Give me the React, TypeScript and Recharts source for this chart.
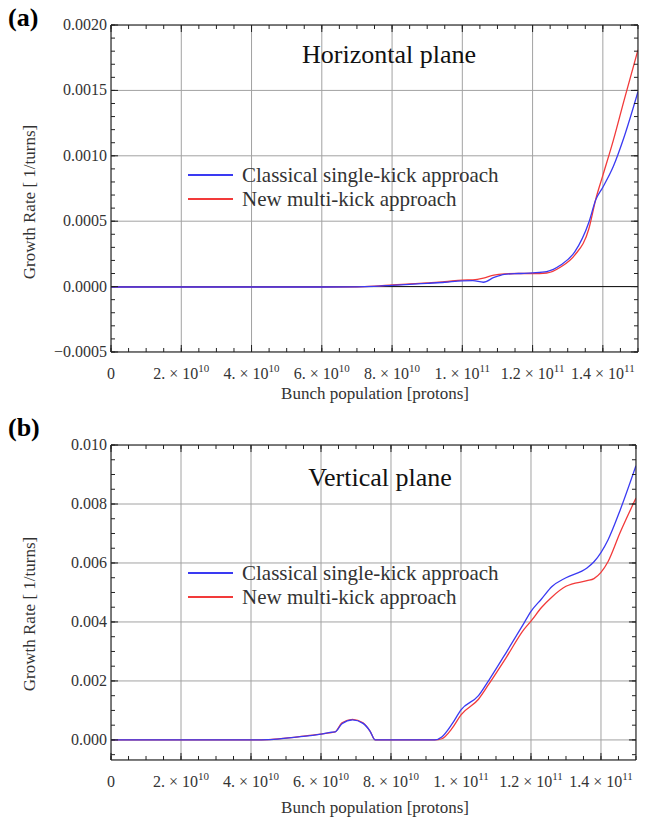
import React from 'react';
import { LineChart, Line, XAxis, YAxis, CartesianGrid, ReferenceLine } from 'recharts';

const FONT = '"Liberation Serif", "Times New Roman", serif';

// x axis: bunch population [protons]
const xMajor = [0, 2e10, 4e10, 6e10, 8e10, 1e11, 1.2e11, 1.4e11];
const xTickMantissa = ['0', '2.', '4.', '6.', '8.', '1.', '1.2', '1.4'];
const xTickExponent = ['', '10', '10', '10', '10', '11', '11', '11'];
const xMinor = Array.from({ length: 31 }, (_, i) => i * 5e9);

// (a) horizontal plane
const yMajorH = [-0.0005, 0, 0.0005, 0.001, 0.0015, 0.002];
const yLabelsH = ['\u22120.0005', '0.0000', '0.0005', '0.0010', '0.0015', '0.0020'];
const yMinorH = Array.from({ length: 26 }, (_, i) => -0.0005 + i * 0.0001);

const nH = [0, 1e10, 2e10, 3e10, 4e10, 5e10, 6e10, 7e10, 7.5e10, 8e10, 8.5e10, 9e10, 9.5e10, 1e11,
  1.03e11, 1.06e11, 1.09e11, 1.12e11, 1.16e11, 1.2e11, 1.24e11, 1.28e11, 1.32e11, 1.36e11, 1.38e11,
  1.4e11, 1.43e11, 1.46e11, 1.5e11];
const classicalH = [-0.000003, -0.000003, -0.000003, -0.000003, -0.000003, -0.000003, -0.000003, -0.000002,
  0.000002, 0.00001, 0.000017, 0.000025, 0.000033, 0.000044, 0.000045, 0.000033, 0.00007, 0.000094,
  0.0001, 0.000105, 0.000115, 0.000165, 0.000265, 0.00049, 0.000665, 0.00076, 0.00092, 0.00114, 0.00149];
const multiH = [-0.000003, -0.000003, -0.000003, -0.000003, -0.000003, -0.000003, -0.000003, -0.000002,
  0.000003, 0.000012, 0.00002, 0.000028, 0.000037, 0.00005, 0.000052, 0.000065, 0.000088, 0.000097,
  0.0001, 0.0001, 0.000104, 0.00015, 0.00024, 0.00044, 0.00067, 0.00085, 0.00112, 0.00142, 0.00181];

// (b) vertical plane
const yMajorV = [0, 0.002, 0.004, 0.006, 0.008, 0.01];
const yLabelsV = ['0.000', '0.002', '0.004', '0.006', '0.008', '0.010'];
const yMinorV = Array.from({ length: 22 }, (_, i) => -0.0005 + i * 0.0005);

const nV = [0, 1e10, 2e10, 3e10, 4e10, 4.5e10, 5e10, 5.5e10, 6e10, 6.3e10, 6.4e10, 6.6e10, 6.9e10, 7.2e10,
  7.4e10, 7.55e10, 8e10, 8.5e10, 9e10, 9.25e10, 9.45e10, 9.75e10, 1e11, 1.05e11, 1.08e11, 1.13e11,
  1.18e11, 1.2e11, 1.23e11, 1.26e11, 1.3e11, 1.36e11, 1.38e11, 1.42e11, 1.455e11, 1.5e11];
const classicalV = [0, 0, 0, 0, 0, 0.00001, 0.00006, 0.00012, 0.0002, 0.00026, 0.00027, 0.00055, 0.00068,
  0.00056, 0.0003, 0, 0, 0, 0, 0, 0.0001, 0.00055, 0.00102, 0.0015, 0.00203, 0.00298, 0.00396, 0.00436,
  0.00478, 0.0052, 0.0055, 0.00583, 0.00604, 0.00678, 0.0078, 0.0093];
const multiV = [0, 0, 0, 0, 0, 0.00001, 0.00006, 0.00013, 0.0002, 0.00025, 0.00027, 0.00058, 0.0007,
  0.00058, 0.0003, 0, 0, 0, 0, 0, 0.00004, 0.0004, 0.00085, 0.00138, 0.0019, 0.00281, 0.00375, 0.00403,
  0.00449, 0.00485, 0.00521, 0.0054, 0.00547, 0.00604, 0.00704, 0.0082];

const seriesNames = ['Classical single-kick approach', 'New multi-kick approach'];
const seriesColors = ['#3a3af2', '#f23a3a'];

const toRows = (n: number[], a: number[], b: number[]) =>
  n.map((v, i) => ({ n: v, classical: a[i], multi: b[i] }));

const Empty = () => <g />;

function XTick(props: any) {
  const { x, y, payload } = props;
  const i = xMajor.indexOf(payload.value);
  const m = xTickMantissa[i];
  const e = xTickExponent[i];
  return (
    <text x={x} y={y} textAnchor="middle" fontFamily={FONT} fontSize={16} fill="#333">
      {m}
      {e && <tspan> {'\u00d7'} 10</tspan>}
      {e && <tspan dy={-7} fontSize={11}>{e}</tspan>}
    </text>
  );
}

function YTick(props: any) {
  const { x, y, payload, ticks, labels } = props;
  const i = ticks.indexOf(payload.value);
  return (
    <text x={x} y={y} dy={5} textAnchor="end" fontFamily={FONT} fontSize={16} fill="#333">
      {labels[i]}
    </text>
  );
}

type PanelProps = {
  top: number;
  tag: string;
  title: string;
  titleX: number;
  titleY: number;
  legendY: number;
  yTitleY: number;
  xTitleY: number;
  rows: any[];
  yDomain: [number, number];
  yMajor: number[];
  yLabels: string[];
  yMinor: number[];
  margin: { top: number; right: number; bottom: number; left: number };
  zeroLine?: boolean;
};

// tick-only axes: a tiny size keeps them all sitting on the plot frame
const THIN = 0.01;

function Panel(p: PanelProps) {
  const xd: [number, number] = [0, 1.5e11];
  const axisStroke = '#222';
  const tl = { stroke: axisStroke };
  // each frame axis pair needs a series, otherwise recharts skips drawing it
  const frameLine = (xa: string, ya: string) => (
    <Line xAxisId={xa} yAxisId={ya} dataKey="classical" stroke="none" dot={false} activeDot={false}
      legendType="none" isAnimationActive={false} />
  );
  return (
    <div style={{ position: 'absolute', left: 0, top: p.top, width: 646, height: 410, fontFamily: FONT }}>
      <LineChart width={646} height={410} data={p.rows} margin={p.margin}>
        <CartesianGrid xAxisId="x" yAxisId="y" stroke="#a2a2a2" strokeWidth={1} />
        {p.zeroLine && <ReferenceLine xAxisId="x" yAxisId="y" y={0} stroke="#111" strokeWidth={1} />}
        <XAxis xAxisId="x" dataKey="n" type="number" domain={xd} allowDataOverflow ticks={xMajor} interval={0}
          height={THIN} tickSize={-7} tickMargin={34} tick={<XTick />} stroke={axisStroke} tickLine={tl} />
        <XAxis xAxisId="xm" dataKey="n" type="number" domain={xd} allowDataOverflow ticks={xMinor} interval={0}
          height={THIN} tickSize={-4} tick={<Empty />} axisLine={false} stroke={axisStroke} tickLine={tl} />
        <XAxis xAxisId="xt" dataKey="n" orientation="top" type="number" domain={xd} allowDataOverflow ticks={xMajor}
          interval={0} height={THIN} tickSize={-7} tick={<Empty />} stroke={axisStroke} tickLine={tl} />
        <XAxis xAxisId="xtm" dataKey="n" orientation="top" type="number" domain={xd} allowDataOverflow ticks={xMinor}
          interval={0} height={THIN} tickSize={-4} tick={<Empty />} axisLine={false} stroke={axisStroke} tickLine={tl} />
        <YAxis yAxisId="y" type="number" domain={p.yDomain} allowDataOverflow ticks={p.yMajor} interval={0}
          width={THIN} tickSize={-7} tickMargin={11} tick={<YTick ticks={p.yMajor} labels={p.yLabels} />}
          stroke={axisStroke} tickLine={tl} />
        <YAxis yAxisId="ym" type="number" domain={p.yDomain} allowDataOverflow ticks={p.yMinor} interval={0}
          width={THIN} tickSize={-4} tick={<Empty />} axisLine={false} stroke={axisStroke} tickLine={tl} />
        <YAxis yAxisId="yr" orientation="right" type="number" domain={p.yDomain} allowDataOverflow ticks={p.yMajor}
          interval={0} width={THIN} tickSize={-7} tick={<Empty />} stroke={axisStroke} tickLine={tl} />
        <YAxis yAxisId="yrm" orientation="right" type="number" domain={p.yDomain} allowDataOverflow ticks={p.yMinor}
          interval={0} width={THIN} tickSize={-4} tick={<Empty />} axisLine={false} stroke={axisStroke} tickLine={tl} />
        {frameLine('xm', 'ym')}
        {frameLine('xt', 'yr')}
        {frameLine('xtm', 'yrm')}
        <Line xAxisId="x" yAxisId="y" type="monotone" dataKey="multi" name={seriesNames[1]} stroke={seriesColors[1]}
          strokeWidth={1.3} dot={false} isAnimationActive={false} />
        <Line xAxisId="x" yAxisId="y" type="monotone" dataKey="classical" name={seriesNames[0]} stroke={seriesColors[0]}
          strokeWidth={1.3} dot={false} isAnimationActive={false} />
      </LineChart>

      <div style={{ position: 'absolute', left: 8, top: 4, fontSize: 26, fontWeight: 'bold', lineHeight: '28px' }}>{p.tag}</div>
      <div style={{ position: 'absolute', left: p.titleX, top: p.titleY - 14, transform: 'translateX(-50%)',
        fontSize: 26, lineHeight: '28px', whiteSpace: 'nowrap', color: '#111' }}>{p.title}</div>
      {seriesNames.map((name, i) => (
        <div key={name} style={{ position: 'absolute', left: 188, top: p.legendY - 12 + i * 24, height: 24,
          display: 'flex', alignItems: 'center', whiteSpace: 'nowrap' }}>
          <div style={{ width: 45, height: 1.5, background: seriesColors[i] }} />
          <span style={{ marginLeft: 9, fontSize: 21, lineHeight: '24px', color: '#333' }}>{name}</span>
        </div>
      ))}
      <div style={{ position: 'absolute', left: 30, top: p.yTitleY, transform: 'translate(-50%, -50%) rotate(-90deg)',
        fontSize: 17, whiteSpace: 'nowrap', color: '#333' }}>Growth Rate [ 1/turns]</div>
      <div style={{ position: 'absolute', left: 375, top: p.xTitleY - 9, transform: 'translateX(-50%)',
        fontSize: 17, lineHeight: '18px', whiteSpace: 'nowrap', color: '#333' }}>Bunch population [protons]</div>
    </div>
  );
}

export default function App() {
  return (
    <div style={{ position: 'absolute', left: 0, top: 0, width: 646, height: 820, background: '#fff' }}>
      <Panel top={0} tag="(a)" title="Horizontal plane" titleX={389} titleY={55} legendY={175} yTitleY={202}
        xTitleY={394} rows={toRows(nH, classicalH, multiH)} yDomain={[-0.0005, 0.002]} yMajor={yMajorH}
        yLabels={yLabelsH} yMinor={yMinorH} margin={{ top: 25, right: 8, bottom: 58, left: 111 }} zeroLine />
      <Panel top={410} tag="(b)" title="Vertical plane" titleX={380} titleY={68} legendY={163} yTitleY={204}
        xTitleY={398} rows={toRows(nV, classicalV, multiV)} yDomain={[-0.00068, 0.01]} yMajor={yMajorV}
        yLabels={yLabelsV} yMinor={yMinorV} margin={{ top: 35, right: 10, bottom: 60, left: 111 }} />
    </div>
  );
}
